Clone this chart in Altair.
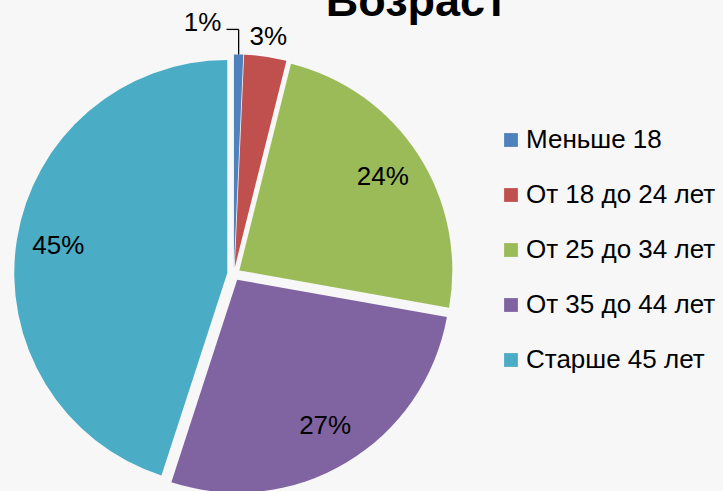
import altair as alt
import pandas as pd

# ---- data ----
categories = ["Меньше 18", "От 18 до 24 лет", "От 25 до 34 лет", "От 35 до 44 лет", "Старше 45 лет"]
values = [0.7, 3.2, 23.9, 27.2, 45.0]
colors = ["#4F81BD", "#C0504D", "#9BBB59", "#8064A2", "#4BACC6"]
title_text = ["Возраст"]

df = pd.DataFrame({"cat": categories, "value": values, "order": list(range(len(categories)))})

# ---- layout ----
CX, CY, R, EXPLODE = 233.8, 274.0, 213, 6.6
FONT = "Liberation Sans"
BG = "#f7f7f7"

base = (
    alt.Chart(df)
    .transform_joinaggregate(total="sum(value)")
    .transform_window(cum="sum(value)", sort=[alt.SortField("order")])
    .transform_calculate(
        t0="2*PI*(datum.cum - datum.value)/datum.total",
        t1="2*PI*datum.cum/datum.total",
    )
    .transform_calculate(mid="(datum.t0 + datum.t1)/2")
    .transform_calculate(
        px=f"{CX} + {EXPLODE}*sin(datum.mid)",
        py=f"{CY} - {EXPLODE}*cos(datum.mid)",
        pct="format(datum.value/datum.total, '.0%')",
        lr=f"datum.value < 2 ? {R + 33} : (datum.value < 5 ? {R + 20} : 171)",
        la="datum.value < 2 ? datum.mid - 0.15 : datum.mid",
    )
    .transform_calculate(
        lx="datum.px + datum.lr*sin(datum.la)",
        ly="datum.py - datum.lr*cos(datum.la)",
        ox=f"datum.px + {R}*sin(datum.mid)",
        oy=f"datum.py - {R}*cos(datum.mid)",
    )
)

legend = alt.Legend(
    orient="none", legendX=498, legendY=127, title=None,
    symbolType="square", symbolSize=190, symbolStrokeWidth=0,
    labelFont=FONT, labelFontSize=26, labelColor="black",
    rowPadding=29, padding=0, labelOffset=2, labelLimit=0,
)

arcs = base.mark_arc(radius=R).encode(
    x=alt.X("px:Q", scale=None, axis=None),
    y=alt.Y("py:Q", scale=None, axis=None),
    theta=alt.Theta("t0:Q", scale=None, stack=False),
    theta2="t1:Q",
    color=alt.Color("cat:N", scale=alt.Scale(domain=categories, range=colors),
                    sort=categories, legend=legend),
)

labels = base.mark_text(font=FONT, fontSize=26, color="black",
                        align="center", baseline="middle").encode(
    x=alt.X("lx:Q", scale=None, axis=None),
    y=alt.Y("ly:Q", scale=None, axis=None),
    text="pct:N",
)

lead = base.transform_filter("datum.value < 2").transform_calculate(
    hy="datum.ly + 6", hx="datum.lx + 24"
)
vline = lead.mark_rule(color="black", strokeWidth=1.3).encode(
    x=alt.X("ox:Q", scale=None, axis=None),
    y=alt.Y("oy:Q", scale=None, axis=None),
    y2="hy:Q",
)
hline = lead.mark_rule(color="black", strokeWidth=1.3).encode(
    x=alt.X("hx:Q", scale=None, axis=None),
    x2="ox:Q",
    y=alt.Y("hy:Q", scale=None, axis=None),
)

title = alt.Chart(pd.DataFrame({"t": title_text})).mark_text(
    font=FONT, fontSize=45, fontWeight="bold", color="black",
    align="center", baseline="alphabetic",
).encode(x=alt.value(416.5), y=alt.value(16), text="t:N")

chart = (
    alt.layer(arcs, labels, vline, hline, title)
    .properties(width=723, height=491, autosize=alt.AutoSizeParams(type="none"),
                padding=0, background=BG)
    .configure_view(strokeWidth=0)
)

chart.save(
    "out.html",
    embed_options={
        "renderer": "svg",
        "actions": False,
        "defaultStyle": "body{margin:0;background:#f7f7f7;overflow:hidden}",
    },
)
